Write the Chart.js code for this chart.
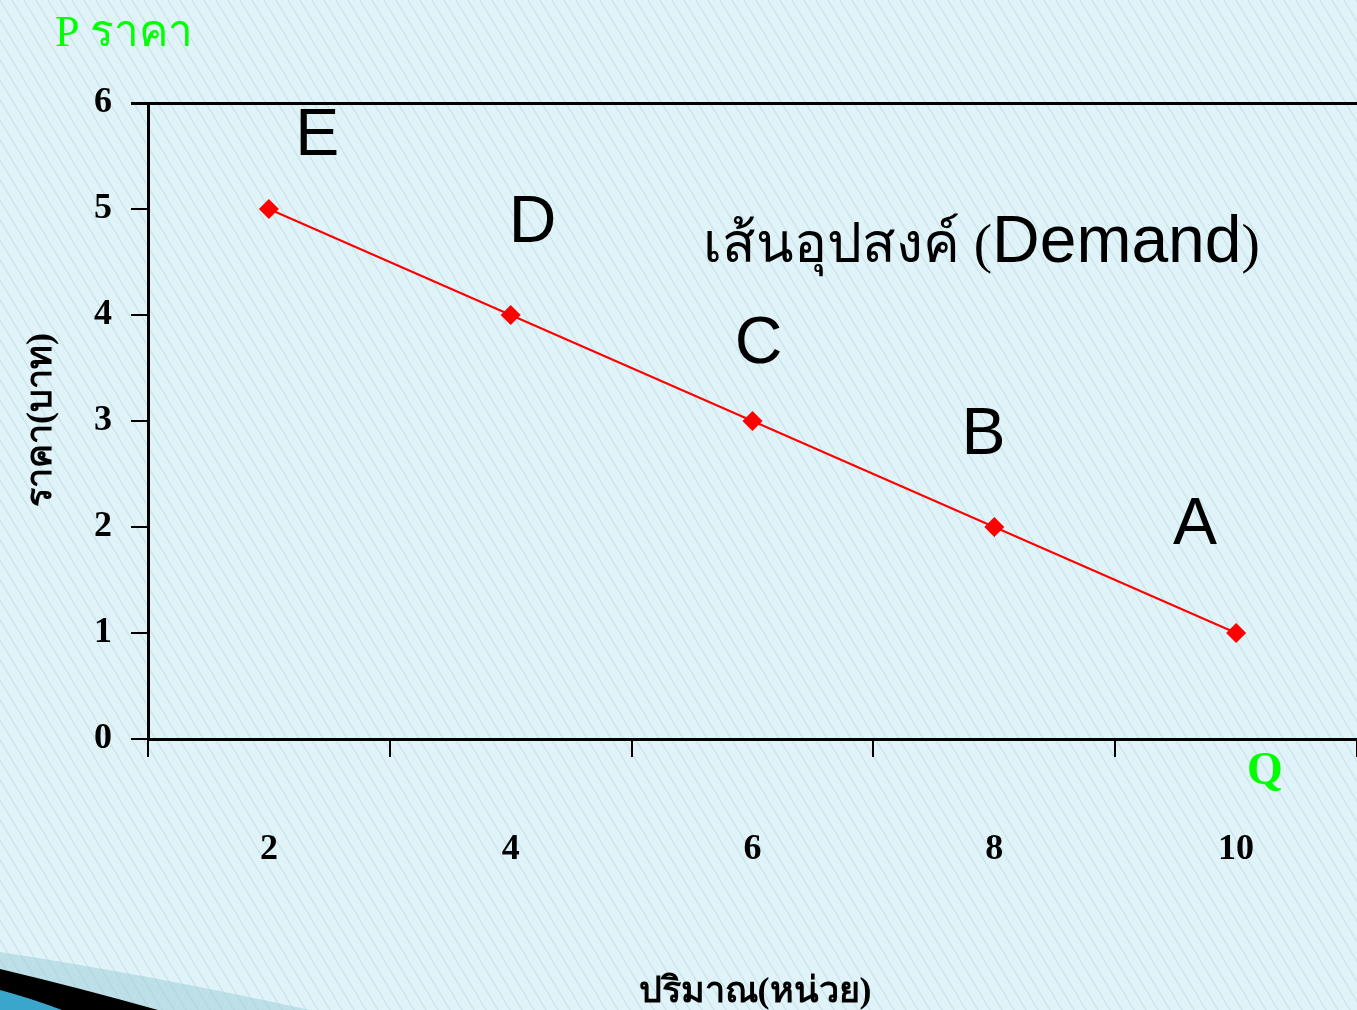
<!DOCTYPE html>
<html>
<head>
<meta charset="utf-8">
<script src="https://cdn.jsdelivr.net/npm/chart.js@4.4.0/dist/chart.umd.min.js"></script>
<style>
  html, body { margin: 0; padding: 0; background: #dff3f8; overflow: hidden; }
  canvas { display: block; }
</style>
</head>
<body>
<canvas id="demand" width="1357" height="1010"></canvas>
<script>
// data
const quantities = ['2', '4', '6', '8', '10'];
const prices = [5, 4, 3, 2, 1];
const pointNames = ['E', 'D', 'C', 'B', 'A'];
const priceTicks = [0, 1, 2, 3, 4, 5, 6];

const serif = "'Liberation Serif', 'Times New Roman', serif";
const sans = "'Liberation Sans', Arial, sans-serif";

function makeStripes(ctx) {
  const p = document.createElement('canvas');
  p.width = 12; p.height = 20;
  const c = p.getContext('2d');
  c.fillStyle = '#dff3f8';
  c.fillRect(0, 0, 12, 20);
  c.strokeStyle = 'rgba(170, 205, 215, 0.4)';
  c.lineWidth = 1.2;
  for (let k = -1; k <= 1; k++) {
    c.beginPath();
    c.moveTo(k * 12, 0);
    c.lineTo(k * 12 + 12, 20);
    c.stroke();
  }
  return ctx.createPattern(p, 'repeat');
}

const decorPlugin = {
  id: 'decor',
  beforeDraw(chart) {
    const ctx = chart.ctx;
    const W = chart.width, H = chart.height;
    ctx.save();
    ctx.fillStyle = makeStripes(ctx);
    ctx.fillRect(0, 0, W, H);

    // bottom-left swoosh
    ctx.fillStyle = 'rgba(160, 205, 218, 0.55)';
    ctx.beginPath();
    ctx.moveTo(0, 952);
    ctx.quadraticCurveTo(150, 975, 310, H);
    ctx.lineTo(0, H);
    ctx.closePath();
    ctx.fill();

    ctx.fillStyle = '#000';
    ctx.beginPath();
    ctx.moveTo(0, 969);
    ctx.quadraticCurveTo(80, 988, 158, H);
    ctx.lineTo(0, H);
    ctx.closePath();
    ctx.fill();

    ctx.fillStyle = '#3aa6cc';
    ctx.beginPath();
    ctx.moveTo(0, 990);
    ctx.quadraticCurveTo(30, 998, 62, H);
    ctx.lineTo(0, H);
    ctx.closePath();
    ctx.fill();
    ctx.restore();
  },
  afterDraw(chart) {
    const ctx = chart.ctx;
    const x = chart.scales.x, y = chart.scales.y;
    const cw = x.getPixelForValue(1) - x.getPixelForValue(0);
    const vh = y.getPixelForValue(0) - y.getPixelForValue(1);
    ctx.save();

    // point letters, placed relative to each point
    const shift = [[0.2, 0.7], [0.09, 0.88], [0.025, 0.74], [-0.045, 0.88], [-0.17, 1.03]];
    ctx.fillStyle = '#000';
    ctx.font = '66px ' + sans;
    ctx.textAlign = 'center';
    ctx.textBaseline = 'middle';
    pointNames.forEach((n, i) => {
      const px = x.getPixelForValue(i) + shift[i][0] * cw;
      const py = y.getPixelForValue(prices[i]) - shift[i][1] * vh;
      ctx.fillText(n, px, py + 2);
    });

    // curve name
    ctx.textAlign = 'left';
    ctx.textBaseline = 'alphabetic';
    let tx = 703;
    const base = 262;
    ctx.font = '55px ' + serif;
    ctx.fillText('เส้นอุปสงค์ (', tx, base);
    tx += ctx.measureText('เส้นอุปสงค์ (').width;
    ctx.font = '66px ' + sans;
    ctx.fillText('Demand', tx, base);
    tx += ctx.measureText('Demand').width;
    ctx.font = '55px ' + serif;
    ctx.fillText(')', tx, base);

    // axis names
    ctx.fillStyle = '#00ff00';
    ctx.font = '44px ' + serif;
    ctx.fillText('P ราคา', 55, 46);
    ctx.font = 'bold 46px ' + serif;
    ctx.textAlign = 'center';
    ctx.fillText('Q', 1265, 784);

    ctx.fillStyle = '#000';
    ctx.font = 'bold 36px ' + serif;
    ctx.fillText('ปริมาณ(หน่วย)', 755, 1002);

    ctx.translate(42, 420);
    ctx.rotate(-Math.PI / 2);
    ctx.font = 'bold 36px ' + serif;
    ctx.textBaseline = 'middle';
    ctx.fillText('ราคา(บาท)', 0, 0);
    ctx.restore();
  }
};

new Chart(document.getElementById('demand'), {
  type: 'line',
  data: {
    labels: quantities,
    datasets: [{
      data: prices,
      borderColor: '#ff0000',
      backgroundColor: '#ff0000',
      borderWidth: 2,
      pointStyle: 'rectRot',
      pointRadius: 10,
      pointBorderWidth: 0,
      tension: 0
    }]
  },
  options: {
    responsive: false,
    animation: false,
    layout: { autoPadding: false, padding: { top: 103, left: 0, right: -2, bottom: 0 } },
    plugins: { legend: { display: false }, tooltip: { enabled: false } },
    scales: {
      x: {
        type: 'category',
        offset: true,
        afterFit: s => { s.height = 271; },
        border: { color: '#000', width: 3 },
        grid: {
          offset: true,
          drawOnChartArea: false,
          tickLength: 18,
          tickColor: '#000',
          lineWidth: 2
        },
        ticks: {
          color: '#000',
          padding: 71,
          font: { family: serif, size: 36, weight: 'bold' }
        }
      },
      y: {
        min: 0,
        max: 6,
        afterFit: s => { s.width = 148; },
        afterBuildTicks: s => { s.ticks = priceTicks.map(v => ({ value: v })); },
        border: { color: '#000', width: 3 },
        grid: {
          color: c => (c.tick && c.tick.value === 6 ? '#000' : 'rgba(0,0,0,0)'),
          tickColor: '#000',
          tickLength: 17,
          lineWidth: c => (c.tick && c.tick.value === 6 ? 3 : 2)
        },
        ticks: {
          color: '#000',
          padding: 19,
          font: { family: serif, size: 36, weight: 'bold' }
        }
      }
    }
  },
  plugins: [decorPlugin]
});
</script>
</body>
</html>
